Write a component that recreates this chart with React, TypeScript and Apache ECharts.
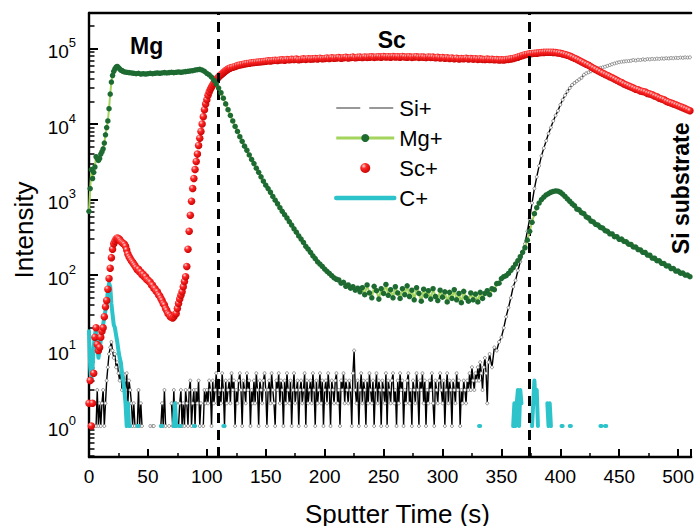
import React, { useEffect, useRef } from 'react';
import * as echarts from 'echarts';

const FONT = '"Liberation Sans", Arial, Helvetica, sans-serif';

// ---- axes ----
const X_MIN = 0;
const X_MAX = 511;
const X_INTERVAL = 50;
const Y_MIN = 0.389;
const Y_MAX = 296000;
const Y_DECADES = [1, 10, 100, 1000, 10000, 100000];
const Y_MINOR_MULT = [2, 3, 4, 5, 6, 7, 8, 9];
const INTERFACES = [110, 374];

// ---- Si+ : t = 0..340 s step 1 (0 = no count), then 342..510 step 2 ----
const SI_NOISE = [
  0, 0, 0, 0, 0, 0, 1, 3, 1, 2, // 0
  1, 2, 3, 1, 2, 4, 6, 9, 11, 13, // 10
  10, 8, 9, 6, 7, 5, 4, 6, 3, 5, // 20
  4, 3, 5, 2, 4, 3, 2, 1, 2, 1, // 30
  0, 1, 3, 1, 2, 1, 0, 0, 0, 0, // 40
  0, 0, 1, 0, 1, 1, 0, 0, 0, 0, // 50
  0, 1, 2, 1, 3, 1, 0, 0, 1, 0, // 60
  2, 1, 3, 1, 2, 0, 1, 2, 3, 1, // 70
  2, 1, 3, 2, 1, 3, 4, 1, 2, 3, // 80
  1, 3, 2, 4, 1, 2, 0, 1, 3, 2, // 90
  3, 2, 4, 3, 1, 4, 2, 3, 5, 2, // 100
  4, 3, 2, 5, 3, 1, 4, 2, 3, 4, // 110
  2, 5, 3, 4, 1, 3, 2, 4, 5, 3, // 120
  1, 4, 3, 2, 5, 3, 4, 1, 3, 2, // 130
  4, 2, 5, 3, 1, 4, 3, 2, 4, 5, // 140
  3, 1, 3, 4, 2, 5, 3, 2, 1, 4, // 150
  3, 5, 2, 4, 3, 1, 4, 2, 5, 3, // 160
  2, 4, 1, 3, 5, 2, 3, 4, 1, 3, // 170
  4, 2, 3, 5, 1, 4, 2, 3, 4, 2, // 180
  5, 3, 1, 4, 2, 3, 5, 2, 4, 1, // 190
  3, 4, 2, 5, 3, 1, 4, 3, 2, 4, // 200
  5, 2, 3, 1, 4, 3, 5, 2, 4, 3, // 210
  2, 4, 3, 1, 5, 10, 3, 2, 4, 1, // 220
  3, 5, 2, 4, 3, 1, 4, 2, 5, 3, // 230
  2, 4, 1, 3, 5, 2, 4, 3, 1, 4, // 240
  3, 2, 5, 1, 4, 3, 2, 4, 5, 2, // 250
  3, 1, 4, 2, 5, 3, 4, 1, 3, 2, // 260
  4, 5, 2, 3, 1, 4, 3, 2, 5, 3, // 270
  1, 4, 3, 5, 2, 4, 1, 3, 2, 4, // 280
  3, 5, 2, 1, 4, 3, 2, 4, 5, 3, // 290
  2, 4, 1, 3, 5, 2, 4, 3, 1, 4, // 300
  3, 2, 5, 3, 4, 1, 3, 2, 4, 3, // 310
  2, 4, 3, 5, 3, 6, 4, 3, 5, 4, // 320
  6, 4, 7, 5, 3, 6, 8, 5, 2, 7, // 330
  9, // 340
];
const SI_RISE = [
  6, 11, 10, 13, 15, 20, 28, 37, 50, 70, // 342
  85, 115, 150, 200, 260, 380, 560, 900, 1400, 2000, // 362
  2800, 3800, 4800, 6000, 7500, 9000, 11000, 13000, 15000, 18000, // 382
  21000, 24000, 27000, 30000, 33000, 35000, 37000, 39000, 41000, 45000, // 402
  47000, 48500, 50000, 51500, 53000, 54500, 55500, 56500, 57500, 59000, // 422
  60500, 62000, 63500, 65000, 66000, 67000, 67500, 68000, 68500, 69000, // 442
  70500, 69500, 71000, 70500, 72000, 71000, 72500, 72000, 73000, 72500, // 462
  73500, 73000, 74000, 73500, 74500, 74000, 75000, 74500, 75500, 75000, // 482
  76000, 75500, 76500, 76000, 76500, // 502
];

// ---- Mg+ : t = 0..30 step 1, then 32..510 step 2 ----
const MG_EARLY = [
  700, 1400, 2500, 1900, 2300, 2700, 3700, 3500, 3300, 3500, // 0
  4000, 4300, 4700, 5600, 7200, 9000, 11000, 16000, 25000, 36000, // 10
  44000, 50000, 54000, 57000, 58000, 56000, 54000, 52000, 51000, 50000, // 20
  49000, // 30
];
const MG_LATE = [
  48500, 48000, 47500, 47000, 46500, 47000, 46000, 46500, 46000, 46500, // 32
  47000, 46500, 47000, 47500, 47000, 47500, 48000, 47500, 48000, 48500, // 52
  48000, 48500, 49000, 48500, 49000, 49500, 50000, 50500, 51000, 52000, // 72
  52500, 53000, 52000, 50000, 47000, 45000, 42000, 38000, 34000, 30000, // 92
  26000, 22000, 18500, 15500, 13000, 11000, 9300, 8000, 6800, 5900, // 112
  5100, 4500, 3900, 3400, 3000, 2600, 2300, 2000, 1750, 1550, // 132
  1400, 1250, 1100, 980, 880, 780, 700, 630, 570, 510, // 152
  460, 410, 370, 330, 300, 270, 240, 220, 200, 180, // 172
  165, 150, 140, 130, 120, 112, 105, 98, 92, 88, // 192
  86, 78, 80, 71, 74, 67, 70, 63, 67, 60, // 212
  68, 55, 74, 58, 50, 71, 62, 48, 66, 57, // 232
  75, 54, 64, 50, 70, 58, 49, 66, 55, 72, // 252
  52, 63, 47, 68, 57, 45, 65, 53, 62, 48, // 272
  66, 52, 46, 63, 51, 60, 44, 59, 49, 64, // 292
  47, 57, 43, 61, 50, 45, 58, 47, 56, 44, // 312
  59, 49, 57, 62, 55, 66, 64, 77, 78, 90, // 332
  95, 98, 105, 115, 125, 140, 155, 175, 200, 230, // 352
  290, 380, 500, 650, 780, 900, 1000, 1080, 1150, 1200, // 372
  1250, 1280, 1300, 1290, 1250, 1180, 1100, 1020, 950, 880, // 392
  830, 750, 730, 670, 650, 590, 570, 520, 505, 470, // 412
  460, 428, 420, 388, 380, 352, 350, 322, 322, 298, // 432
  300, 280, 276, 256, 254, 236, 235, 218, 215, 200, // 452
  199, 184, 183, 168, 167, 155, 154, 143, 142, 132, // 472
  132, 122, 122, 113, 113, 106, 106, 100, 100, 95, // 492
];

// ---- Sc+ : t = 0..120 step 1, then 122..510 step 2 ----
const SC_EARLY = [
  2, 4, 1, 2, 5, 15, 20, 12, 10, 11, // 0
  15, 18, 20, 28, 38, 46, 65, 90, 123, 170, // 10
  220, 260, 280, 300, 310, 305, 295, 280, 270, 262, // 20
  255, 240, 215, 190, 175, 165, 155, 148, 140, 133, // 30
  125, 118, 119, 110, 110, 101, 102, 94, 95, 87, // 40
  86, 82, 80, 74, 73, 67, 66, 61, 60, 55, // 50
  53, 49, 46, 42, 40, 36, 34, 31, 30, 28, // 60
  28, 27, 28, 30, 31, 36, 42, 48, 54, 60, // 70
  70, 82, 95, 130, 220, 380, 620, 950, 1400, 1900, // 80
  2500, 3200, 4000, 5200, 6500, 8000, 10000, 12500, 15500, 18500, // 90
  21000, 24000, 26500, 29000, 31000, 33000, 35000, 37000, 39000, 40500, // 100
  42000, 43500, 45000, 46500, 48000, 49500, 51000, 52000, 53500, 54500, // 110
  55500, // 120
];
const SC_LATE = [
  56500, 58000, 59500, 60500, 61500, 62500, 63500, 64000, 65000, 65500, // 122
  66000, 66500, 67000, 67500, 68000, 69000, 68500, 69500, 70000, 69500, // 142
  70500, 71000, 70000, 71500, 71000, 72000, 71500, 72500, 71000, 72000, // 162
  73000, 72000, 73500, 72500, 73000, 74000, 73000, 74500, 73500, 74000, // 182
  75000, 74000, 75500, 74500, 75000, 76000, 74500, 75500, 76500, 75000, // 202
  76000, 77000, 75500, 76500, 77000, 76000, 77500, 76500, 77000, 78000, // 222
  76500, 77500, 78000, 77000, 78500, 77500, 78000, 77000, 78500, 77500, // 242
  78000, 77000, 78500, 77500, 77000, 78000, 76500, 77500, 78000, 76500, // 262
  77500, 77000, 76000, 77500, 76500, 77000, 75500, 76500, 75000, 76000, // 282
  74500, 75500, 74000, 75000, 73500, 74500, 73000, 74000, 73500, 74500, // 302
  73000, 74000, 72500, 73500, 72000, 73000, 72000, 71500, 72500, 71500, // 322
  72000, 71000, 71500, 70500, 71000, 70500, 71500, 72000, 73000, 74000, // 342
  75500, 77000, 79000, 81000, 83000, 84000, 85000, 86000, 86500, 87000, // 362
  88000, 88500, 89000, 89500, 89500, 89500, 89000, 88500, 87500, 86500, // 382
  85000, 83500, 81500, 79500, 77000, 74500, 72000, 69500, 67000, 64500, // 402
  62000, 60000, 57500, 55000, 53000, 51000, 49000, 47000, 45500, 44000, // 422
  42500, 41000, 39500, 38000, 36500, 35500, 34000, 33000, 32000, 31000, // 442
  30000, 29000, 28500, 27500, 27000, 26500, 25500, 25000, 24500, 23500, // 462
  23000, 22000, 21500, 21000, 20000, 19500, 19000, 18500, 18000, 17500, // 482
  17000, 16500, 16000, 15500, 15000, // 502
];

// ---- C+ : t = 0..35 step 1, then isolated counts [t, v] (0 = no count) ----
const C_EARLY = [
  18, 6, 4, 6, 11, 16, 20, 12, 8, 10, // 0
  14, 18, 22, 28, 34, 45, 60, 78, 70, 42, // 10
  30, 22, 20, 16, 13, 10, 8, 7, 5, 4, // 20
  3, 2, 1, 2, 1, 1, // 30
];
const C_LATE: [number, number][] = [
  [36, 0], [41, 1], [42, 1], [43, 0], [61, 1], [62, 1], [63, 0],
  [72, 1], [73, 2], [74, 1], [75, 0], [77, 1], [78, 1], [79, 0],
  [89, 1], [90, 1], [91, 0], [114, 1], [115, 1], [116, 0],
  [331, 1], [332, 1], [333, 0],
  [360, 1], [361, 2], [362, 1], [363, 2], [364, 3], [365, 1], [366, 3], [367, 2], [368, 0],
  [376, 1], [377, 2], [378, 4], [379, 2], [380, 3], [381, 1], [382, 0],
  [389, 2], [390, 1], [391, 2], [392, 1], [393, 0],
  [401, 1], [402, 1], [403, 0], [408, 1], [409, 1], [410, 0],
  [434, 1], [435, 1], [436, 0], [438, 1], [439, 1],
];

const seq = (start: number, step: number, vals: number[]) =>
  vals.map((v, i) => [start + i * step, v > 0 ? v : '-']);

export default function App() {
  const ref = useRef<HTMLDivElement>(null);

  useEffect(() => {
    const el = ref.current!;
    const chart = echarts.init(el, null, { renderer: 'svg' });

    const yMinor: number[] = [];
    [0.1, 1, 10, 100, 1000, 10000, 100000].forEach((d) =>
      Y_MINOR_MULT.forEach((m) => {
        const v = m * d;
        if (v >= Y_MIN && v <= Y_MAX) yMinor.push(v);
      })
    );

    const siData = [...seq(0, 1, SI_NOISE), ...seq(342, 2, SI_RISE)];
    const mgData = [...seq(0, 1, MG_EARLY), ...seq(32, 2, MG_LATE)];
    const scData = [...seq(0, 1, SC_EARLY), ...seq(122, 2, SC_LATE)];
    const cData = [...seq(0, 1, C_EARLY), ...C_LATE.map(([t, v]) => [t, v > 0 ? v : '-'])];

    const sphere = new echarts.graphic.RadialGradient(0.35, 0.3, 0.75, [
      { offset: 0, color: '#ffd6d6' },
      { offset: 0.35, color: '#ff2626' },
      { offset: 1, color: '#c40000' },
    ]);

    const axisLineStyle = { color: '#000', width: 2.4 };

    const option: any = {
      animation: false,
      backgroundColor: '#fff',
      grid: { left: 89, right: 0, top: 13, bottom: 69, containLabel: false },
      xAxis: [
        {
          type: 'value',
          min: X_MIN,
          max: X_MAX,
          interval: X_INTERVAL,
          position: 'bottom',
          axisLine: { show: true, lineStyle: axisLineStyle },
          axisTick: { show: true, inside: true, length: 8, lineStyle: { color: '#000', width: 2 } },
          minorTick: { show: true, splitNumber: 2, length: 4, lineStyle: { color: '#000', width: 1.5 } },
          axisLabel: {
            show: true,
            margin: 10,
            fontSize: 19,
            fontFamily: FONT,
            color: '#000',
            showMaxLabel: false,
          },
          splitLine: { show: false },
        },
        {
          type: 'value',
          min: X_MIN,
          max: X_MAX,
          position: 'top',
          axisLine: { show: true, lineStyle: axisLineStyle },
          axisTick: { show: false },
          axisLabel: { show: false },
          splitLine: { show: false },
        },
      ],
      yAxis: [
        {
          type: 'log',
          min: Y_MIN,
          max: Y_MAX,
          position: 'left',
          axisLine: { show: true, lineStyle: axisLineStyle },
          axisTick: {
            show: true,
            inside: true,
            length: 9,
            customValues: Y_DECADES,
            lineStyle: { color: '#000', width: 2 },
          },
          axisLabel: {
            show: true,
            margin: 13,
            customValues: Y_DECADES,
            formatter: (v: number) => `{n|10}{s|${Math.round(Math.log10(v))}}`,
            rich: {
              n: { fontSize: 19, fontFamily: FONT, color: '#000', lineHeight: 25, verticalAlign: 'bottom' },
              s: { fontSize: 13, fontFamily: FONT, color: '#000', lineHeight: 13, verticalAlign: 'top' },
            },
          },
          splitLine: { show: false },
        },
        {
          type: 'log',
          min: Y_MIN,
          max: Y_MAX,
          position: 'left',
          axisLine: { show: false },
          axisTick: {
            show: true,
            inside: true,
            length: 5.5,
            customValues: yMinor,
            lineStyle: { color: '#000', width: 1.5 },
          },
          axisLabel: { show: false },
          splitLine: { show: false },
        },
      ],
      legend: {
        orient: 'vertical',
        left: 329,
        top: 92,
        itemWidth: 58,
        itemHeight: 10,
        itemGap: 8,
        textStyle: { fontSize: 22, fontFamily: FONT, color: '#000' },
        data: [
          { name: 'Si+', itemStyle: { opacity: 0 }, lineStyle: { type: [24, 9], width: 1.2, color: '#333' } },
          { name: 'Mg+', lineStyle: { width: 3 } },
          { name: 'Sc+' },
          { name: 'C+', itemStyle: { opacity: 0 }, lineStyle: { width: 4.5 } },
        ],
      },
      series: [
        {
          name: 'Si+',
          type: 'line',
          z: 2,
          data: siData,
          showAllSymbol: true,
          symbol: 'circle',
          symbolSize: 3,
          itemStyle: { color: '#fff', borderColor: '#666', borderWidth: 0.7 },
          lineStyle: { color: '#000', width: 1.4 },
          connectNulls: false,
        },
        {
          name: 'C+',
          type: 'line',
          z: 3,
          data: cData,
          symbol: 'none',
          itemStyle: { color: '#2cc3cb' },
          lineStyle: { color: '#2cc3cb', width: 4, cap: 'round', join: 'round' },
          connectNulls: false,
        },
        {
          name: 'Sc+',
          type: 'scatter',
          z: 4,
          data: scData,
          symbol: 'circle',
          symbolSize: 7.5,
          itemStyle: { color: sphere, opacity: 1 },
        },
        {
          name: 'Mg+',
          type: 'line',
          z: 5,
          data: mgData,
          showAllSymbol: true,
          symbol: 'circle',
          symbolSize: 5.5,
          itemStyle: { color: '#1e6b32' },
          lineStyle: { color: '#a3d45c', width: 2 },
          markLine: {
            silent: true,
            symbol: 'none',
            label: { show: false },
            lineStyle: { color: '#000', width: 3, type: [10, 7] },
            data: INTERFACES.map((t) => ({ xAxis: t })),
          },
        },
      ],
      graphic: [
        {
          type: 'text',
          x: 146.7,
          y: 45.7,
          style: { text: 'Mg', fontSize: 23, fontWeight: 'bold', fontFamily: FONT, fill: '#000', align: 'center', verticalAlign: 'middle', textAlign: 'center', textVerticalAlign: 'middle' },
        },
        {
          type: 'text',
          x: 391.7,
          y: 40,
          style: { text: 'Sc', fontSize: 23, fontWeight: 'bold', fontFamily: FONT, fill: '#000', align: 'center', verticalAlign: 'middle', textAlign: 'center', textVerticalAlign: 'middle' },
        },
        {
          type: 'text',
          x: 681,
          y: 188.3,
          rotation: Math.PI / 2,
          style: { text: 'Si substrate', fontSize: 23, fontWeight: 'bold', fontFamily: FONT, fill: '#000', align: 'center', verticalAlign: 'middle', textAlign: 'center', textVerticalAlign: 'middle' },
        },
        {
          type: 'text',
          x: 24,
          y: 230,
          rotation: Math.PI / 2,
          style: { text: 'Intensity', fontSize: 26, fontFamily: FONT, fill: '#000', align: 'center', verticalAlign: 'middle', textAlign: 'center', textVerticalAlign: 'middle' },
        },
        {
          type: 'text',
          x: 397.5,
          y: 514.3,
          style: { text: 'Sputter Time (s)', fontSize: 26, fontFamily: FONT, fill: '#000', align: 'center', verticalAlign: 'middle', textAlign: 'center', textVerticalAlign: 'middle' },
        },
      ],
    };

    chart.setOption(option);
    return () => chart.dispose();
  }, []);

  return (
    <div
      ref={ref}
      style={{ position: 'fixed', left: 0, top: 0, width: 697, height: 526, background: '#fff' }}
    />
  );
}
